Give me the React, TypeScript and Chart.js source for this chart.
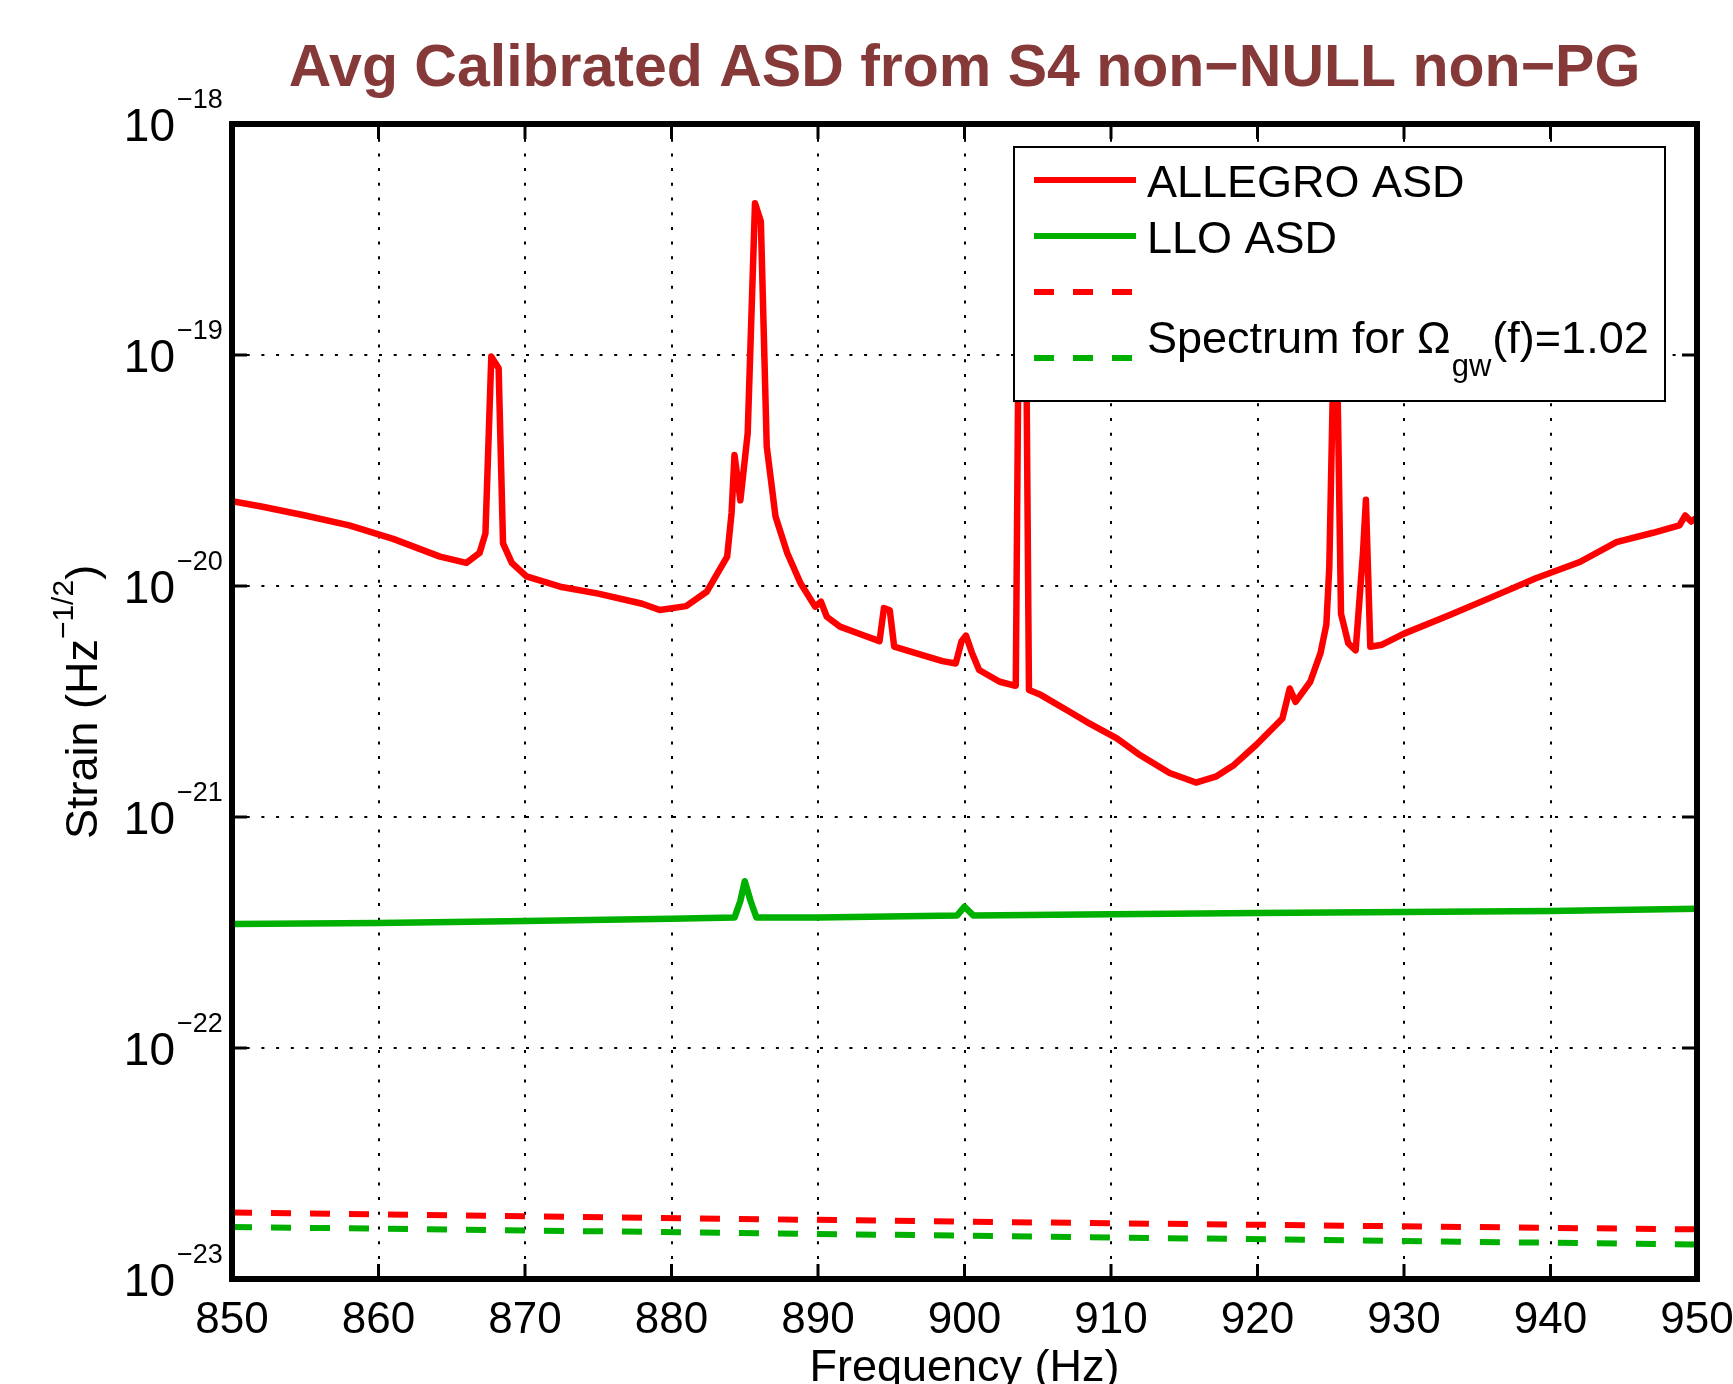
import React, { useEffect, useRef } from 'react';
import { Chart, registerables } from 'chart.js';

Chart.register(...registerables);

const allegroFreq = [
  850, 852, 855, 858, 861, 864.2, 866, 866.9, 867.3, 867.7, 868.2, 868.5, 869.1, 870.1, 872.4,
  875, 878, 879.2, 881, 882.4, 883.8, 884.1, 884.3, 884.7, 885.2, 885.7, 886.1, 886.5, 887.1,
  887.9, 888.8, 889.8, 890.2, 890.6, 891.5, 893, 894.2, 894.5, 894.9, 895.2, 896.5,
  898.5, 899.4, 899.8, 900.1, 900.5, 901, 902.4, 903.3, 903.5, 903.7, 904.2, 904.4, 905.2, 907,
  908.3, 910.4, 912, 914, 915.8, 917.2, 918.4, 919.9, 921.7, 922.2, 922.6, 923.6, 924.3, 924.7,
  924.9, 925.1, 925.3, 925.5, 925.7, 926.2, 926.7, 927.2, 927.4, 927.7, 928.5, 930, 933, 936, 939,
  942, 944.5, 947, 948.8, 949.2, 949.6, 950,
];
const allegroAsd = [
  2.33e-20, 2.21e-20, 2.02e-20, 1.83e-20, 1.6e-20, 1.34e-20, 1.26e-20, 1.39e-20, 1.69e-20, 9.84e-20,
  8.76e-20, 1.53e-20, 1.26e-20, 1.1e-20, 9.93e-21,
  9.27e-21, 8.38e-21, 7.87e-21, 8.18e-21, 9.44e-21, 1.34e-20, 2.07e-20, 3.69e-20, 2.35e-20, 4.58e-20,
  4.54e-19, 3.78e-19, 4.02e-20, 2.0e-20,
  1.39e-20, 1.03e-20, 8.14e-21, 8.55e-21, 7.36e-21, 6.67e-21, 6.15e-21, 5.77e-21, 8.02e-21, 7.85e-21,
  5.46e-21, 5.16e-21,
  4.73e-21, 4.62e-21, 5.77e-21, 6.1e-21, 5.16e-21, 4.33e-21, 3.85e-21, 3.72e-21, 3.7e-21, 1.5e-19,
  1.5e-19, 3.55e-21, 3.38e-21, 2.9e-21,
  2.59e-21, 2.19e-21, 1.85e-21, 1.55e-21, 1.41e-21, 1.5e-21, 1.68e-21, 2.05e-21, 2.67e-21, 3.6e-21,
  3.15e-21, 3.85e-21, 5.12e-21, 6.8e-21,
  1.2e-20, 5.22e-20, 2.2e-19, 5.22e-20, 7.59e-21, 5.64e-21, 5.27e-21, 1.39e-20, 2.36e-20, 5.46e-21,
  5.57e-21, 6.22e-21, 7.43e-21, 8.95e-21, 1.08e-20,
  1.27e-20, 1.55e-20, 1.7e-20, 1.83e-20, 2.02e-20, 1.9e-20, 1.98e-20,
];

const lloFreq = [850, 860, 870, 880, 884.3, 884.7, 885, 885.4, 885.8, 890, 899.5, 900, 900.6, 910, 920, 930, 940, 950];
const lloAsd = [
  3.44e-22, 3.48e-22, 3.55e-22, 3.63e-22, 3.67e-22, 4.33e-22, 5.27e-22, 4.33e-22, 3.67e-22, 3.67e-22,
  3.75e-22, 4.09e-22, 3.75e-22, 3.79e-22, 3.84e-22, 3.88e-22, 3.92e-22, 4.01e-22,
];

const omegaFreq = [850, 900, 950];
const omegaAllegro = [1.94e-23, 1.77e-23, 1.64e-23];
const omegaLlo = [1.68e-23, 1.54e-23, 1.41e-23];

const xTicks = [850, 860, 870, 880, 890, 900, 910, 920, 930, 940, 950];
const yTickExponents = [-18, -19, -20, -21, -22, -23];

const titleText = 'Avg Calibrated ASD from S4 non\u2212NULL non\u2212PG';
const xTitle = 'Frequency (Hz)';
const yTitleMain = 'Strain (Hz';
const yTitleSup = '\u22121/2';
const legendLabels = ['ALLEGRO ASD', 'LLO ASD', '', 'Spectrum for \u03A9'];
const legendSub = 'gw';
const legendTail = '(f)=1.02';

const RED = '#ff0000';
const GREEN = '#00b000';
const FONT = '"Liberation Sans", Arial, Helvetica, sans-serif';

const toPts = (xs: number[], ys: number[]) => xs.map((x, i) => ({ x, y: ys[i] }));

const overlayPlugin = {
  id: 'overlay',
  afterDraw(chart: any) {
    const { ctx, chartArea: ca, scales } = chart;
    const xs = scales.x;
    const ys = scales.y;
    ctx.save();

    // Legend box
    const lx = 1014, ly = 147, lw = 651, lh = 254;
    ctx.fillStyle = '#fff';
    ctx.fillRect(lx, ly, lw, lh);
    ctx.strokeStyle = '#000';
    ctx.lineWidth = 2;
    ctx.setLineDash([]);
    ctx.strokeRect(lx, ly, lw, lh);

    const rows = [
      { y: 180, color: RED, dash: [] as number[] },
      { y: 236, color: GREEN, dash: [] as number[] },
      { y: 292, color: RED, dash: [20, 19] },
      { y: 358, color: GREEN, dash: [20, 19] },
    ];
    rows.forEach((r) => {
      ctx.beginPath();
      ctx.strokeStyle = r.color;
      ctx.lineWidth = 6;
      ctx.setLineDash(r.dash);
      ctx.moveTo(1034, r.y);
      ctx.lineTo(1136, r.y);
      ctx.stroke();
    });
    ctx.setLineDash([]);
    ctx.fillStyle = '#000';
    ctx.textAlign = 'left';
    ctx.textBaseline = 'alphabetic';
    ctx.font = `45px ${FONT}`;
    ctx.fillText(legendLabels[0], 1147, 197);
    ctx.fillText(legendLabels[1], 1147, 253);
    ctx.font = `45px ${FONT}`;
    ctx.fillText(legendLabels[3], 1147, 353);
    let tx = 1147 + ctx.measureText(legendLabels[3]).width + 1;
    ctx.font = `31px ${FONT}`;
    ctx.fillText(legendSub, tx, 376);
    tx += ctx.measureText(legendSub).width + 1;
    ctx.font = `45px ${FONT}`;
    ctx.fillText(legendTail, tx, 353);

    // Axes box
    ctx.strokeStyle = '#000';
    ctx.lineWidth = 6;
    ctx.strokeRect(ca.left, ca.top, ca.right - ca.left, ca.bottom - ca.top);

    // Tick marks (inward, all sides)
    ctx.lineWidth = 3;
    const seg = (x1: number, y1: number, x2: number, y2: number) => {
      ctx.beginPath();
      ctx.moveTo(x1, y1);
      ctx.lineTo(x2, y2);
      ctx.stroke();
    };
    xTicks.forEach((v) => {
      const px = xs.getPixelForValue(v);
      seg(px, ca.bottom, px, ca.bottom - 15);
      seg(px, ca.top, px, ca.top + 15);
    });
    yTickExponents.forEach((e) => {
      const py = ys.getPixelForValue(Math.pow(10, e));
      seg(ca.left, py, ca.left + 15, py);
      seg(ca.right, py, ca.right - 15, py);
    });

    // X tick labels
    ctx.fillStyle = '#000';
    ctx.font = `44px ${FONT}`;
    ctx.textAlign = 'center';
    xTicks.forEach((v) => {
      ctx.fillText(String(v), xs.getPixelForValue(v), 1333);
    });

    // Y tick labels: 10^exp
    yTickExponents.forEach((e) => {
      const py = ys.getPixelForValue(Math.pow(10, e));
      ctx.font = `46px ${FONT}`;
      ctx.textAlign = 'right';
      ctx.fillText('10', 175, py + 17);
      ctx.font = `27px ${FONT}`;
      ctx.textAlign = 'left';
      ctx.fillText('\u2212' + String(Math.abs(e)), 177, py - 16);
    });

    // X title
    ctx.font = `45px ${FONT}`;
    ctx.textAlign = 'center';
    ctx.fillText(xTitle, (ca.left + ca.right) / 2, 1381);

    // Y title (rotated)
    ctx.save();
    ctx.translate(97, 702);
    ctx.rotate(-Math.PI / 2);
    ctx.textAlign = 'left';
    ctx.font = `45px ${FONT}`;
    const w1 = ctx.measureText(yTitleMain).width;
    const w3 = ctx.measureText(')').width;
    ctx.font = `30px ${FONT}`;
    const w2 = ctx.measureText(yTitleSup).width;
    let sx = -(w1 + w2 + w3) / 2;
    ctx.font = `45px ${FONT}`;
    ctx.fillText(yTitleMain, sx, 0);
    sx += w1;
    ctx.font = `30px ${FONT}`;
    ctx.fillText(yTitleSup, sx, -24);
    sx += w2;
    ctx.font = `45px ${FONT}`;
    ctx.fillText(')', sx, 0);
    ctx.restore();

    // Title
    ctx.fillStyle = '#863939';
    ctx.font = `bold 59px ${FONT}`;
    ctx.textAlign = 'center';
    ctx.fillText(titleText, (ca.left + ca.right) / 2, 86);

    ctx.restore();
  },
};

export default function App() {
  const canvasRef = useRef<HTMLCanvasElement | null>(null);

  useEffect(() => {
    const canvas = canvasRef.current;
    if (!canvas) return;
    const gridOpts = { color: '#000', lineWidth: 2, drawTicks: false };
    const borderOpts = { display: false, dash: [3, 11.7] };
    const chart = new Chart(canvas, {
      type: 'line',
      data: {
        datasets: [
          {
            label: 'ALLEGRO ASD',
            data: toPts(allegroFreq, allegroAsd),
            borderColor: RED,
            borderWidth: 6.5,
            pointRadius: 0,
            tension: 0,
            borderJoinStyle: 'round',
          },
          {
            label: 'LLO ASD',
            data: toPts(lloFreq, lloAsd),
            borderColor: GREEN,
            borderWidth: 6.5,
            pointRadius: 0,
            tension: 0,
            borderJoinStyle: 'round',
          },
          {
            label: 'ALLEGRO Omega',
            data: toPts(omegaFreq, omegaAllegro),
            borderColor: RED,
            borderWidth: 6,
            borderDash: [20, 19],
            pointRadius: 0,
            tension: 0,
          },
          {
            label: 'LLO Omega',
            data: toPts(omegaFreq, omegaLlo),
            borderColor: GREEN,
            borderWidth: 6,
            borderDash: [20, 19],
            pointRadius: 0,
            tension: 0,
          },
        ],
      },
      options: {
        animation: false,
        responsive: false,
        maintainAspectRatio: false,
        parsing: true,
        layout: { padding: { top: 124, right: 36, bottom: 0, left: 0 } },
        plugins: {
          legend: { display: false },
          tooltip: { enabled: false },
          title: { display: false },
        },
        events: [],
        scales: {
          x: {
            type: 'linear',
            min: 850,
            max: 950,
            ticks: { display: false, stepSize: 10 },
            grid: gridOpts,
            border: borderOpts,
            afterFit: (s: any) => {
              s.height = 105;
            },
          },
          y: {
            type: 'logarithmic',
            min: 1e-23,
            max: 1e-18,
            ticks: { display: false },
            grid: gridOpts,
            border: borderOpts,
            afterBuildTicks: (s: any) => {
              s.ticks = yTickExponents.map((e) => ({ value: Math.pow(10, e) }));
            },
            afterFit: (s: any) => {
              s.width = 232;
            },
          },
        },
      } as any,
      plugins: [overlayPlugin],
    });
    return () => chart.destroy();
  }, []);

  return (
    <div style={{ position: 'absolute', left: 0, top: 0, width: 1733, height: 1384, background: '#fff' }}>
      <canvas ref={canvasRef} width={1733} height={1384} style={{ width: 1733, height: 1384, display: 'block' }} />
    </div>
  );
}
